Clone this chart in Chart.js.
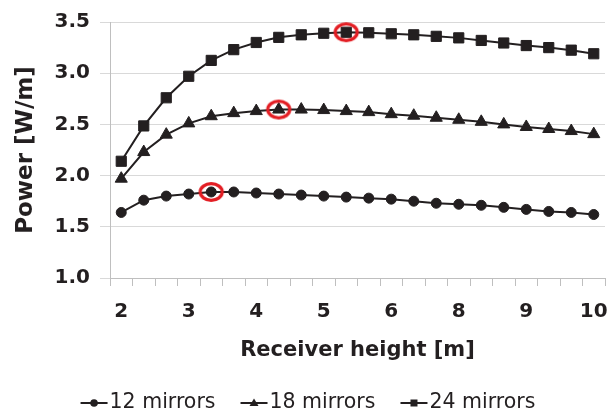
<!DOCTYPE html>
<html>
<head>
<meta charset="utf-8">
<script src="https://cdn.jsdelivr.net/npm/chart.js@4/dist/chart.umd.min.js"></script>
<style>
  body { margin: 0; background: #fff; overflow: hidden; }
  #wrap { width: 608px; height: 414px; }
</style>
</head>
<body>
<div id="wrap"><canvas id="grafico"></canvas></div>
<script>
// Etiquetas del eje X (solo se ve una de cada tres)
const alturas = ['2', '', '', '3', '', '', '4', '', '', '5', '', '', '6', '', '', '8', '', '', '9', '', '', '10'];

// Potencia [W/m] para cada configuración
const espejos12 = [1.64, 1.76, 1.80, 1.82, 1.84, 1.84, 1.83, 1.82, 1.81, 1.80, 1.79, 1.78, 1.77, 1.75, 1.73, 1.72, 1.71, 1.69, 1.67, 1.65, 1.64, 1.62];
const espejos18 = [1.97, 2.23, 2.40, 2.51, 2.58, 2.61, 2.63, 2.645, 2.645, 2.64, 2.63, 2.62, 2.60, 2.585, 2.565, 2.545, 2.525, 2.50, 2.475, 2.455, 2.435, 2.405];
const espejos24 = [2.14, 2.485, 2.76, 2.97, 3.125, 3.23, 3.30, 3.35, 3.375, 3.39, 3.40, 3.395, 3.385, 3.375, 3.36, 3.345, 3.32, 3.295, 3.27, 3.25, 3.225, 3.19];

// Posición de los máximos marcados en rojo
const maximos = [4, 7, 10];

const negro = '#231f20';
const fuenteBold = '"DejaVu Sans", sans-serif';

// Elipse roja para marcar los máximos
function crearElipse() {
  const c = document.createElement('canvas');
  c.width = 32; c.height = 26;
  const g = c.getContext('2d');
  g.strokeStyle = '#e31e24';
  g.lineWidth = 3.2;
  g.beginPath();
  g.ellipse(16, 13, 11, 8.3, 0, 0, Math.PI * 2);
  g.stroke();
  return c;
}

const series = [espejos12, espejos18, espejos24];
const datosMax = alturas.map((_, i) => {
  const k = maximos.indexOf(i);
  return k >= 0 ? series[k][i] : null;
});

function serie(label, data, estilo, radio) {
  return {
    label: label,
    data: data,
    borderColor: negro,
    backgroundColor: negro,
    borderWidth: 2,
    pointStyle: estilo,
    pointRadius: radio,
    pointBorderWidth: 1,
    tension: 0
  };
}

// Leyenda dibujada a mano: línea con marcador y texto
const leyenda = {
  id: 'leyenda',
  afterDraw(chart) {
    const ctx = chart.ctx;
    const items = chart.data.datasets.filter(d => !d.esMaximo);
    ctx.save();
    ctx.font = '20.5px "DejaVu Sans", sans-serif';
    ctx.textBaseline = 'middle';
    const largo = 27, hueco = 2, sep = 25;
    const anchos = items.map(d => largo + hueco + ctx.measureText(d.label).width);
    const total = anchos.reduce((a, b) => a + b, 0) + sep * (items.length - 1);
    let x = (chart.width - total) / 2 + 4;
    const y = 403;
    items.forEach((d, i) => {
      ctx.strokeStyle = negro;
      ctx.fillStyle = negro;
      ctx.lineWidth = 2;
      ctx.beginPath();
      ctx.moveTo(x, y);
      ctx.lineTo(x + largo, y);
      ctx.stroke();
      const cx = x + largo / 2;
      ctx.beginPath();
      if (d.pointStyle === 'circle') {
        ctx.arc(cx, y, 3.8, 0, Math.PI * 2);
      } else if (d.pointStyle === 'triangle') {
        ctx.moveTo(cx, y - 4.5);
        ctx.lineTo(cx + 4.5, y + 3);
        ctx.lineTo(cx - 4.5, y + 3);
        ctx.closePath();
      } else {
        ctx.rect(cx - 3.5, y - 3.5, 7, 7);
      }
      ctx.fill();
      ctx.fillText(d.label, x + largo + hueco, y);
      x += anchos[i] + sep;
    });
    ctx.restore();
  }
};

const chart = new Chart(document.getElementById('grafico'), {
  type: 'line',
  data: {
    labels: alturas,
    datasets: [
      {
        label: 'máximos',
        esMaximo: true,
        data: datosMax,
        showLine: false,
        pointStyle: crearElipse(),
        borderColor: 'transparent',
        backgroundColor: 'transparent'
      },
      serie('12 mirrors', espejos12, 'circle', 5),
      serie('18 mirrors', espejos18, 'triangle', 7),
      serie('24 mirrors', espejos24, 'rect', 7.2)
    ]
  },
  options: {
    responsive: true,
    maintainAspectRatio: false,
    animation: false,
    layout: { autoPadding: false, padding: { top: 21, right: 3, bottom: 40, left: 0 } },
    plugins: {
      legend: { display: false },
      tooltip: { enabled: false }
    },
    scales: {
      x: {
        type: 'category',
        offset: true,
        afterFit(s) { s.height = 96; s.paddingLeft = 0; s.paddingRight = 0; },
        grid: {
          offset: true,
          drawOnChartArea: false,
          drawTicks: true,
          tickLength: 8,
          color: '#bfbfbf'
        },
        border: { color: '#bfbfbf' },
        ticks: {
          autoSkip: false,
          maxRotation: 0,
          padding: 14,
          color: negro,
          font: { family: fuenteBold, size: 20, weight: 'bold' }
        },
        title: {
          display: true,
          text: 'Receiver height [m]',
          color: negro,
          font: { family: fuenteBold, size: 21, weight: 'bold' },
          padding: { top: 0, bottom: 11 }
        }
      },
      y: {
        min: 1,
        max: 3.5,
        afterFit(s) { s.width = 110; },
        grid: { color: '#d9d9d9', tickLength: 10 },
        border: { color: '#bfbfbf' },
        ticks: {
          stepSize: 0.5,
          padding: 10,
          color: negro,
          font: { family: fuenteBold, size: 20, weight: 'bold' },
          callback: v => v.toFixed(1)
        },
        title: {
          display: true,
          text: 'Power [W/m]',
          color: negro,
          font: { family: fuenteBold, size: 23, weight: 'bold' },
          padding: { top: 12, bottom: 0 }
        }
      }
    }
  },
  plugins: [leyenda]
});
</script>
</body>
</html>
